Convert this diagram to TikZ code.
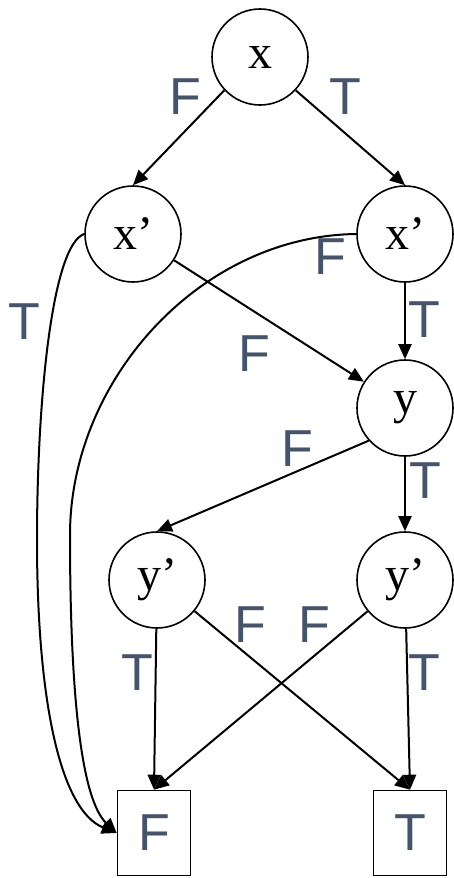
\documentclass[tikz,border=0pt]{standalone}
\usepackage{fontspec}
\setmainfont{Liberation Serif}
\newfontfamily\labfont{Liberation Sans}
\usetikzlibrary{arrows.meta}
\definecolor{labcol}{RGB}{68,84,106}
\begin{document}
\begin{tikzpicture}[x=1pt,y=-1pt,
  vnode/.style={circle,draw,line width=1.6pt,minimum size=96pt,inner sep=0pt,font=\fontsize{48}{48}\selectfont},
  leaf/.style={rectangle,draw,line width=1.6pt,minimum width=73pt,minimum height=85pt,inner sep=0pt,font=\labfont\fontsize{52}{52}\selectfont,text=labcol},
  elab/.style={inner sep=0pt,font=\labfont\fontsize{52}{52}\selectfont,text=labcol},
  edge/.style={line width=2pt,-{Triangle[length=15pt,width=13pt]}}]
\useasboundingbox (0,0) rectangle (454,878);
\node[vnode] (x) at (260,57) {x};
\node[vnode] (xl) at (133,234) {x’};
\node[vnode] (xr) at (405,234) {x’};
\node[vnode] (y) at (405,408) {y};
\node[vnode] (yl) at (157,580) {y’};
\node[vnode] (yr) at (405,580) {y’};
\node[leaf] (Fb) at (154,833) {F};
\node[leaf] (Tb) at (410,833) {T};
\coordinate (c1) at (37,540);
\coordinate (c2) at (70,535);
\draw[edge] (x.223) -- (xl.north);
\draw[edge] (x.317) -- (xr.north);
\draw[edge] (xl.west) .. controls (52,245) and (37,400) .. (c1) .. controls (37,700) and (60,810) .. (Fb.west);
\draw[edge] (xr.west) .. controls (200,236) and (70,380) .. (c2) .. controls (70,700) and (82,800) .. (Fb.west);
\draw[edge] (xl) -- (y);
\draw[edge] (xr) -- (y);
\draw[edge] (y.222) -- (yl.north);
\draw[edge] (y) -- (yr);
\draw[edge] (yl) -- (Fb.north);
\draw[edge] (yl) -- (Tb.north);
\draw[edge] (yr) -- (Fb.north);
\draw[edge] (yr) -- (Tb.north);
\node[elab] (l1) at (185,97) {F};
\node[elab] (l2) at (345,97) {T};
\node[elab] (l3) at (24,322) {T};
\node[elab] (l4) at (330,257) {F};
\node[elab] (l5) at (424,320) {T};
\node[elab] (l6) at (254,354) {F};
\node[elab] (l7) at (297,449) {F};
\node[elab] (l8) at (425,481) {T};
\node[elab] (l9) at (137,673) {T};
\node[elab] (l10) at (250,625) {F};
\node[elab] (l11) at (314,625) {F};
\node[elab] (l12) at (424,673) {T};
\end{tikzpicture}
\end{document}
